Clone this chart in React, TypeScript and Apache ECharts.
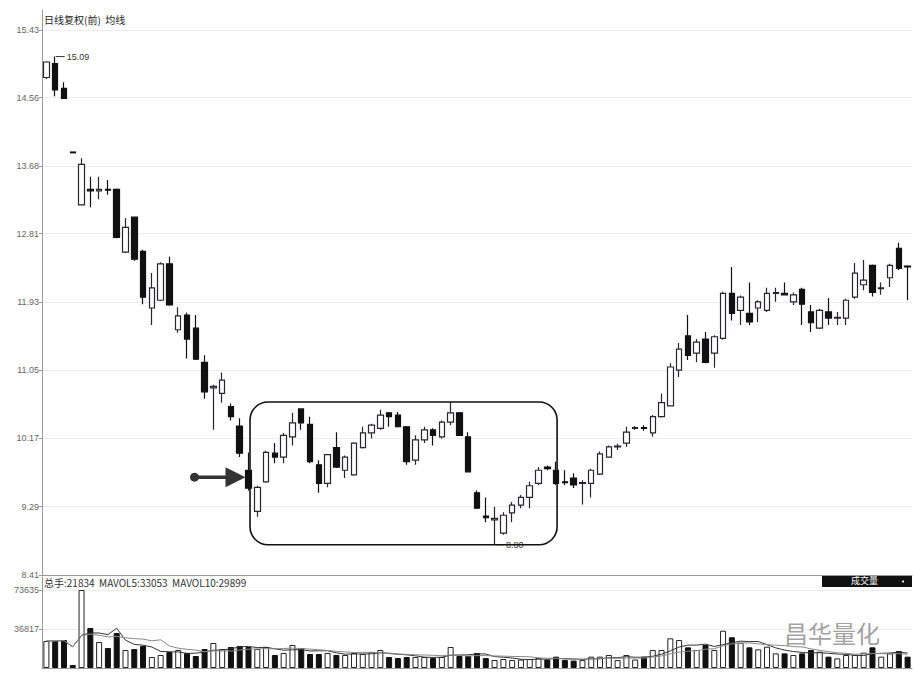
import React, { useEffect, useRef } from "react";
import * as echarts from "echarts";

// ---- data ----
const opens = [
  14.82, 15.0, 14.68, 13.86, 13.18, 13.38, 13.36, 13.38, 13.38, 12.57,
  13.02, 12.58, 11.85, 11.95, 12.42, 11.57, 11.76, 11.59, 11.15, 10.82,
  10.75, 10.58, 10.33, 9.76, 9.23, 9.61, 9.98, 9.93, 10.19, 10.55,
  10.35, 9.83, 9.59, 10.05, 9.76, 9.7, 10.05, 10.24, 10.3, 10.5,
  10.47, 10.32, 9.89, 10.15, 10.28, 10.19, 10.38, 10.5, 10.19, 9.47,
  9.17, 9.12, 8.95, 9.21, 9.31, 9.41, 9.59, 9.8, 9.76, 9.61,
  9.66, 9.59, 9.59, 9.71, 9.93, 10.06, 10.11, 10.3, 10.31, 10.24,
  10.45, 10.59, 11.05, 11.49, 11.27, 11.45, 11.27, 11.46, 12.04, 11.82,
  11.78, 11.85, 11.82, 12.04, 12.04, 11.93, 12.09, 11.8, 11.59, 11.8,
  11.72, 11.72, 11.99, 12.15, 12.4, 12.1, 12.24, 12.62, 12.39,
];
const closes = [
  15.02, 14.66, 14.55, 13.85, 13.7, 13.36, 13.38, 13.37, 12.76, 12.89,
  12.48, 11.99, 12.11, 12.42, 11.89, 11.75, 11.45, 11.19, 10.77, 10.84,
  10.92, 10.45, 9.98, 9.53, 9.54, 9.99, 9.93, 10.21, 10.37, 10.37,
  9.87, 9.59, 9.96, 9.8, 9.93, 10.11, 10.24, 10.34, 10.47, 10.45,
  10.32, 9.87, 10.15, 10.28, 10.21, 10.38, 10.5, 10.21, 9.74, 9.27,
  9.15, 9.14, 9.18, 9.31, 9.41, 9.56, 9.76, 9.78, 9.59, 9.6,
  9.57, 9.6, 9.76, 9.97, 10.06, 10.07, 10.25, 10.31, 10.3, 10.45,
  10.63, 11.09, 11.32, 11.24, 11.41, 11.15, 11.48, 12.04, 11.78, 11.99,
  11.67, 11.93, 12.04, 12.05, 12.02, 12.02, 11.9, 11.66, 11.82, 11.72,
  11.73, 11.95, 12.3, 12.21, 12.05, 12.11, 12.4, 12.36, 12.38,
];
const lows = [
  14.8, 14.58, 14.55, 13.85, 13.18, 13.15, 13.25, 13.31, 12.75, 12.56,
  12.46, 11.9, 11.63, 11.94, 11.88, 11.53, 11.2, 11.18, 10.68, 10.28,
  10.63, 10.4, 9.93, 9.5, 9.16, 9.6, 9.85, 9.85, 10.08, 10.28,
  9.85, 9.47, 9.54, 9.79, 9.66, 9.69, 10.04, 10.17, 10.28, 10.32,
  10.31, 9.83, 9.83, 10.11, 10.08, 10.17, 10.34, 10.2, 9.73, 9.26,
  9.09, 8.8, 8.93, 9.09, 9.27, 9.27, 9.57, 9.76, 9.57, 9.57,
  9.53, 9.32, 9.41, 9.7, 9.92, 10.02, 10.06, 10.28, 10.27, 10.19,
  10.44, 10.58, 10.96, 11.18, 11.15, 11.14, 11.08, 11.44, 11.69, 11.63,
  11.63, 11.67, 11.8, 11.93, 12.01, 11.89, 11.63, 11.54, 11.58, 11.63,
  11.63, 11.63, 11.97, 12.08, 12.0, 12.02, 12.12, 12.34, 11.95,
];
const highs = [
  15.03, 15.09, 14.76, 13.86, 13.78, 13.54, 13.54, 13.5, 13.39, 13.01,
  13.03, 12.6, 12.3, 12.44, 12.51, 11.86, 11.79, 11.76, 11.24, 10.86,
  11.02, 10.62, 10.43, 9.99, 9.56, 10.01, 10.11, 10.24, 10.5, 10.56,
  10.45, 9.89, 9.97, 10.25, 9.95, 10.12, 10.32, 10.36, 10.54, 10.51,
  10.51, 10.33, 10.21, 10.32, 10.3, 10.4, 10.64, 10.51, 10.25, 9.5,
  9.41, 9.29, 9.22, 9.35, 9.44, 9.61, 9.8, 9.82, 9.87, 9.76,
  9.72, 9.63, 9.78, 10.0, 10.08, 10.1, 10.32, 10.33, 10.34, 10.47,
  10.75, 11.14, 11.4, 11.76, 11.45, 11.54, 11.5, 12.06, 12.38, 12.01,
  12.18, 11.95, 12.11, 12.11, 12.18, 12.05, 12.11, 11.89, 11.84, 11.98,
  11.8, 11.97, 12.43, 12.47, 12.41, 12.18, 12.42, 12.69, 12.4,
];
const volumes = [
  25500, 25500, 26400, 2800, 73635, 37800, 24500, 18900, 33000, 17000,
  17900, 20800, 10400, 12300, 15100, 17000, 14200, 11300, 17900, 23600,
  17900, 19800, 20800, 19800, 17900, 19800, 12300, 14200, 21700, 18900,
  13200, 13200, 14200, 12300, 12300, 14200, 13200, 15100, 17000, 10400,
  9400, 10400, 10400, 10400, 9400, 10400, 19800, 11300, 11300, 14200,
  9400, 7500, 8500, 7500, 8000, 8500, 9400, 8000, 10700, 7500,
  7000, 7500, 10700, 10700, 12300, 7500, 12300, 8000, 10700, 17000,
  17000, 28000, 26400, 19500, 17000, 21700, 17000, 35200, 29000, 23900,
  19500, 17600, 20100, 13800, 13800, 12300, 13800, 17000, 15400, 10700,
  9100, 12300, 12300, 14500, 19500, 10700, 13800, 16000, 10700,
];
const priceTicks = [8.41, 9.29, 10.17, 11.05, 11.93, 12.81, 13.68, 14.56, 15.43];
const volumeTicks = [36817, 73635];
const highMark = { index: 1, value: 15.09 };
const lowMark = { index: 51, value: 8.8 };
const boxRange = { from: 23, to: 58, high: 10.64, low: 8.8 };
const arrowTarget = { index: 23, price: 9.67 };
const titleText = "日线复权(前)  均线";
const volumeLegend = "总手:21834  MAVOL5:33053  MAVOL10:29899";
const volumeTag = "成交量";
const watermark = "昌华量化";

const categories = opens.map((_, i) => String(i + 1));

function movingAverage(arr: number[], n: number) {
  return arr.map((_, i) => {
    const s = Math.max(0, i - n + 1);
    const w = arr.slice(s, i + 1);
    return Math.round(w.reduce((a, b) => a + b, 0) / w.length);
  });
}

export default function App() {
  const ref = useRef<HTMLDivElement>(null);
  useEffect(() => {
    document.body.style.margin = "0";
    if (!ref.current) return;
    const chart = echarts.init(ref.current, undefined, { renderer: "svg" });
    const candles = opens.map((o, i) => [o, closes[i], lows[i], highs[i]]);
    const volData = volumes.map((v, i) => {
      const up = closes[i] >= opens[i];
      return {
        value: v,
        itemStyle: up
          ? { color: "#ffffff", borderColor: "#222", borderWidth: 1 }
          : { color: "#111", borderColor: "#111", borderWidth: 1 },
      };
    });
    const font = "Liberation Sans, Arial, sans-serif";
    chart.setOption({
      animation: false,
      backgroundColor: "#ffffff",
      textStyle: { fontFamily: font },
      grid: [
        { left: 42, right: 2, top: 10, height: 565 },
        { left: 42, right: 2, top: 577, height: 91 },
      ],
      xAxis: [
        {
          type: "category",
          data: categories,
          gridIndex: 0,
          boundaryGap: true,
          axisLine: { show: true, onZero: false, lineStyle: { color: "#9a9a9a" } },
          axisTick: { show: false },
          axisLabel: { show: false },
          splitLine: { show: false },
        },
        {
          type: "category",
          data: categories,
          gridIndex: 1,
          boundaryGap: true,
          axisLine: { show: true, onZero: false, lineStyle: { color: "#9a9a9a" } },
          axisTick: { show: false },
          axisLabel: { show: false },
          splitLine: { show: false },
        },
      ],
      yAxis: [
        {
          type: "value",
          gridIndex: 0,
          min: 8.41,
          max: 15.69,
          axisLine: { show: true, lineStyle: { color: "#9a9a9a" } },
          axisTick: { show: true, length: 3, customValues: priceTicks, lineStyle: { color: "#9a9a9a" } },
          axisLabel: {
            customValues: priceTicks,
            formatter: (v: number) => v.toFixed(2),
            fontSize: 9,
            color: "#666",
            margin: 3,
          },
          splitLine: { show: true, lineStyle: { color: "#ededed" } },
        },
        {
          type: "value",
          gridIndex: 1,
          min: 0,
          max: 85900,
          axisLine: { show: true, lineStyle: { color: "#9a9a9a" } },
          axisTick: { show: true, length: 3, customValues: volumeTicks, lineStyle: { color: "#9a9a9a" } },
          axisLabel: {
            customValues: volumeTicks,
            formatter: (v: number) => String(Math.round(v)),
            fontSize: 9,
            color: "#666",
            margin: 3,
          },
          splitLine: { show: true, lineStyle: { color: "#ededed" } },
        },
      ],
      series: [
        {
          type: "candlestick",
          xAxisIndex: 0,
          yAxisIndex: 0,
          data: candles,
          barWidth: 6,
          itemStyle: {
            color: "#ffffff",
            color0: "#111",
            borderColor: "#2a2430",
            borderColor0: "#111",
            borderWidth: 1.2,
          },
          markPoint: {
            symbol: "rect",
            symbolSize: [9, 1],
            symbolOffset: [5, 0],
            itemStyle: { color: "#333" },
            label: {
              show: true,
              position: "right",
              distance: 2,
              color: "#333",
              fontSize: 9,
              formatter: (p: any) => Number(p.value).toFixed(2),
            },
            data: [
              { coord: [categories[highMark.index], highMark.value], value: highMark.value },
              { coord: [categories[lowMark.index], lowMark.value], value: lowMark.value },
            ],
          },
        },
        {
          type: "bar",
          xAxisIndex: 1,
          yAxisIndex: 1,
          data: volData,
          barWidth: 6,
        },
        {
          type: "line",
          xAxisIndex: 1,
          yAxisIndex: 1,
          data: movingAverage(volumes, 5),
          symbol: "none",
          lineStyle: { width: 1, color: "#333" },
        },
        {
          type: "line",
          xAxisIndex: 1,
          yAxisIndex: 1,
          data: movingAverage(volumes, 10),
          symbol: "none",
          lineStyle: { width: 1, color: "#888" },
        },
      ],
    });

    const px = (i: number, p: number) =>
      chart.convertToPixel({ xAxisIndex: 0, yAxisIndex: 0 }, [i, p]) as number[];
    const [bx1, by1] = px(boxRange.from, boxRange.high);
    const [bx2, by2] = px(boxRange.to, boxRange.low);
    const [ax, ay] = px(arrowTarget.index, arrowTarget.price);
    const tipX = ax - 3;

    chart.setOption({
      graphic: [
        {
          type: "rect",
          shape: { x: bx1 + 1.5, y: by1, width: bx2 + 1 - (bx1 + 1.5), height: by2 - by1, r: 18 },
          style: { fill: "none", stroke: "#111", lineWidth: 1.6 },
          z: 10,
        },
        {
          type: "line",
          shape: { x1: tipX - 51, y1: ay, x2: tipX - 15, y2: ay },
          style: { stroke: "#333", lineWidth: 3.5 },
          z: 10,
        },
        {
          type: "circle",
          shape: { cx: tipX - 51, cy: ay, r: 4.5 },
          style: { fill: "#333" },
          z: 10,
        },
        {
          type: "polygon",
          shape: { points: [[tipX - 20, ay - 10], [tipX, ay], [tipX - 20, ay + 10]] },
          style: { fill: "#333" },
          z: 10,
        },
        {
          type: "text",
          left: 44,
          top: 14,
          style: { text: titleText, fill: "#222", fontSize: 10, fontFamily: "Noto Sans CJK SC" },
        },
        {
          type: "text",
          left: 44,
          top: 577,
          style: { text: volumeLegend, fill: "#333", fontSize: 10, fontFamily: "Noto Sans CJK SC" },
        },
        {
          type: "rect",
          shape: { x: 822, y: 576, width: 90, height: 11 },
          style: { fill: "#111" },
        },
        {
          type: "text",
          left: 851,
          top: 576,
          style: { text: volumeTag, fill: "#fff", fontSize: 9, fontFamily: "Noto Sans CJK SC" },
        },
        {
          type: "circle",
          shape: { cx: 903, cy: 581.5, r: 1 },
          style: { fill: "#fff" },
        },
        {
          type: "text",
          left: 784,
          top: 620,
          style: { text: watermark, fill: "rgba(120,120,120,0.7)", fontSize: 24, fontFamily: "Noto Sans CJK SC" },
          z: 20,
        },
      ],
    });
    return () => chart.dispose();
  }, []);
  return <div ref={ref} style={{ width: 914, height: 680 }} />;
}
